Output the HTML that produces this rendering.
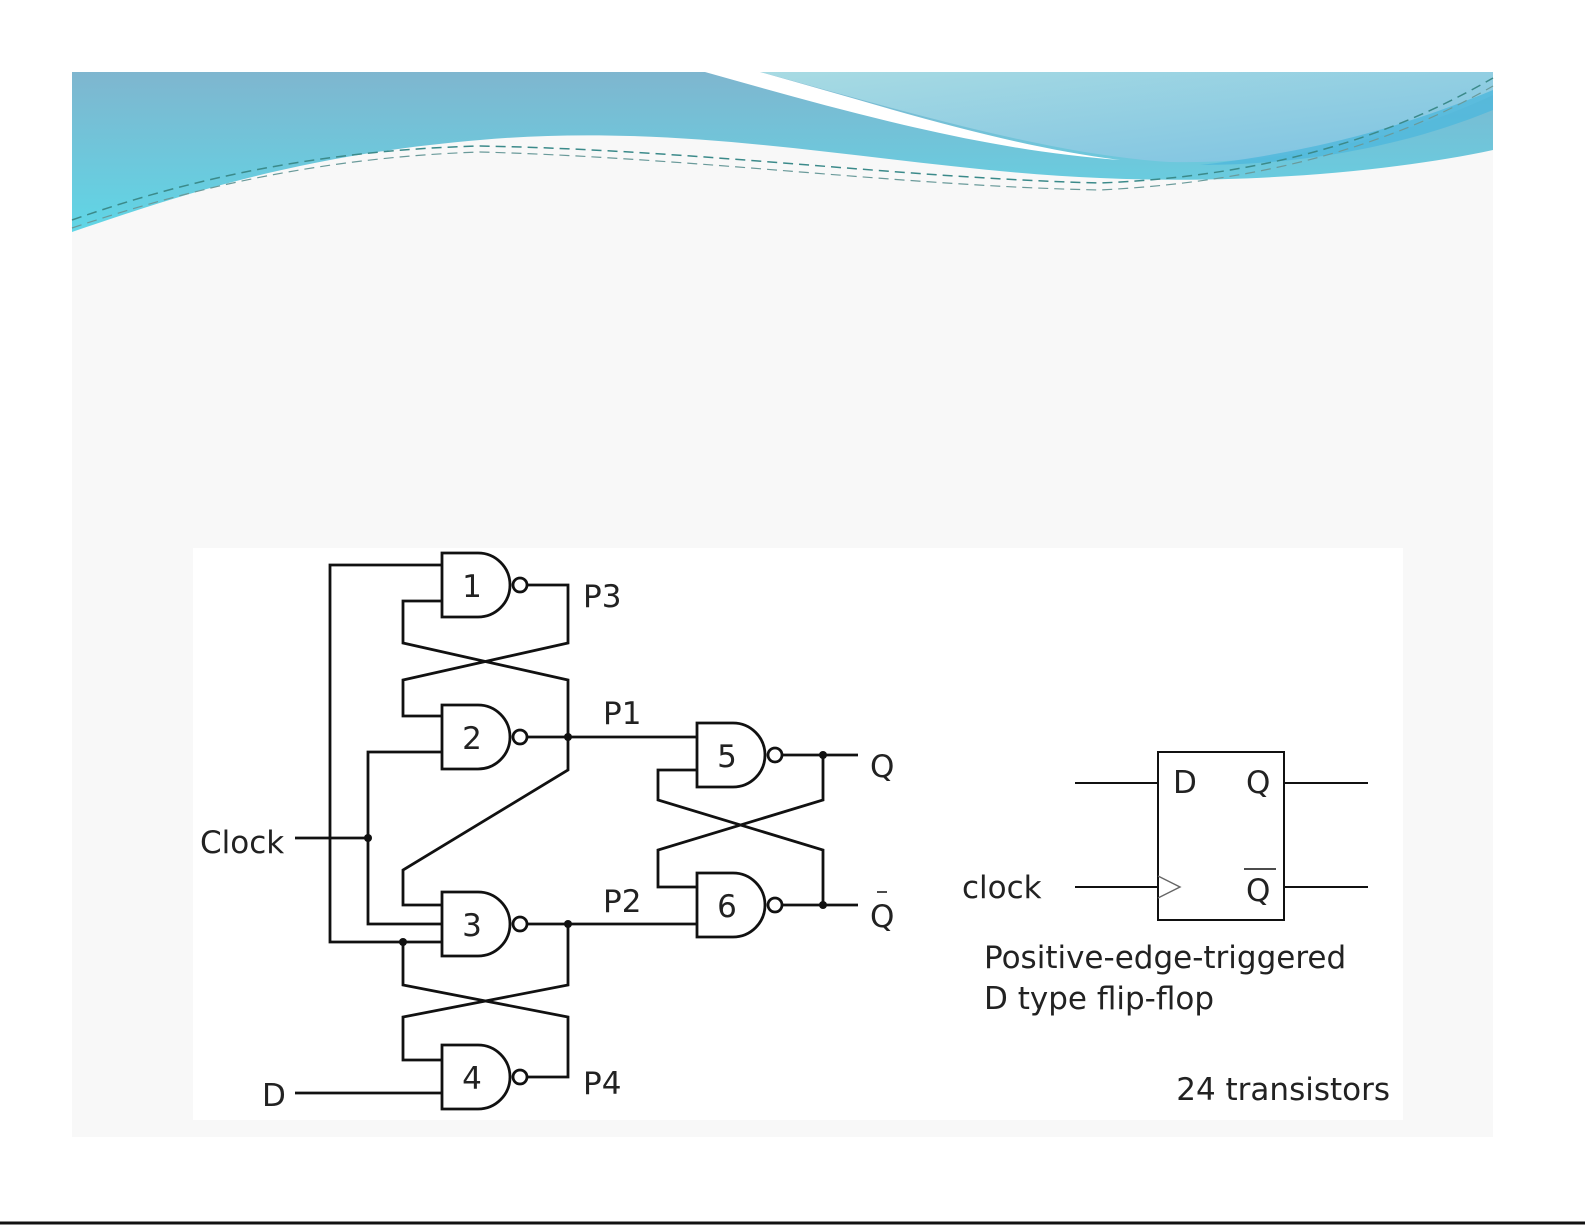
<!DOCTYPE html>
<html><head><meta charset="utf-8"><style>
html,body{margin:0;padding:0;background:#fff;}
svg{display:block;}
text{font-family:"DejaVu Sans","Liberation Sans",sans-serif;fill:#222;}
</style></head><body>
<svg width="1585" height="1225" viewBox="0 0 1585 1225" xmlns="http://www.w3.org/2000/svg">
<defs>
<linearGradient id="g1" x1="0" y1="0" x2="0" y2="1">
<stop offset="0" stop-color="#7fb6cf"/><stop offset="1" stop-color="#5fd6e6"/></linearGradient>
<linearGradient id="g2" x1="0" y1="0" x2="1" y2="1">
<stop offset="0" stop-color="#a8dbe3"/><stop offset="1" stop-color="#7cc2e2"/></linearGradient>
</defs>
<rect x="72" y="72" width="1421" height="1065" fill="#f8f8f8"/>
<path d="M72,72 H1493 V150 C1400,170 1250,185 1100,178 C900,170 700,120 480,140 C300,155 180,195 72,232 Z" fill="url(#g1)"/>
<path d="M760,72 H1493 V95 C1420,130 1300,165 1170,162 C1050,155 900,110 760,72 Z" fill="url(#g2)"/>
<path d="M705,72 H760 C880,105 1000,145 1120,160 C980,150 840,110 705,72 Z" fill="#fff"/>
<path d="M1200,165 C1330,150 1420,120 1493,90 V110 C1420,140 1320,165 1200,165 Z" fill="#4fb8dc" opacity="0.8"/>
<path d="M72,220 C200,175 330,150 480,146 C700,150 900,178 1100,183 C1300,175 1420,120 1493,78" fill="none" stroke="#3b8a8a" stroke-width="1.5" stroke-dasharray="10,6"/>
<path d="M72,228 C200,185 330,157 480,152 C700,158 900,186 1100,190 C1300,180 1420,128 1493,86" fill="none" stroke="#6a9a9a" stroke-width="1.2" stroke-dasharray="10,6"/>
<rect x="193" y="548" width="1210" height="572" fill="#fff"/>
<line x1="0" y1="1223" x2="1585" y2="1223" stroke="#111" stroke-width="3"/>

<g fill="none" stroke="#111" stroke-width="2.8">
<path d="M442,553 H478 A32,32 0 0 1 478,617 H442 Z"/>
<path d="M442,705 H478 A32,32 0 0 1 478,769 H442 Z"/>
<path d="M442,892 H478 A32,32 0 0 1 478,956 H442 Z"/>
<path d="M442,1045 H478 A32,32 0 0 1 478,1109 H442 Z"/>
<path d="M697,723 H733 A32,32 0 0 1 733,787 H697 Z"/>
<path d="M697,873 H733 A32,32 0 0 1 733,937 H697 Z"/>
<circle cx="520" cy="585" r="7"/>
<circle cx="520" cy="737" r="7"/>
<circle cx="520" cy="924" r="7"/>
<circle cx="520" cy="1077" r="7"/>
<circle cx="775" cy="755" r="7"/>
<circle cx="775" cy="905" r="7"/>
<path d="M442,565 H330 V942 H442"/>
<path d="M295,838 H368"/>
<path d="M442,752 H368 V924 H442"/>
<path d="M442,601 H403 V643 L568,680 V737"/>
<path d="M527,585 H568 V643 L403,680 V716 H442"/>
<path d="M527,737 H697"/>
<path d="M568,737 V770 L403,870 V905 H442"/>
<path d="M527,924 H697"/>
<path d="M568,924 V985 L403,1017 V1060 H442"/>
<path d="M403,942 V985 L568,1017 V1077 H527"/>
<path d="M295,1093 H442"/>
<path d="M782,755 H858"/>
<path d="M782,905 H858"/>
<path d="M697,770 H658 V800 L823,850 V905"/>
<path d="M823,755 V800 L658,850 V887 H697"/>
<rect x="1158" y="752" width="126" height="168" stroke-width="2"/>
<path d="M1075,783 H1158 M1075,887 H1158 M1284,783 H1368 M1284,887 H1368" stroke-width="2"/>
<path d="M1158,876 L1180,887 L1158,898" stroke-width="1.4" stroke="#666"/>
<path d="M1244,869 H1276" stroke-width="1.6"/>
</g>
<g fill="#111">
<circle cx="368" cy="838" r="4"/>
<circle cx="403" cy="942" r="4"/>
<circle cx="568" cy="737" r="4"/>
<circle cx="568" cy="924" r="4"/>
<circle cx="823" cy="755" r="4"/>
<circle cx="823" cy="905" r="4"/>
</g>
<g font-size="31" text-anchor="middle">
<text x="472" y="597">1</text>
<text x="472" y="749">2</text>
<text x="472" y="936">3</text>
<text x="472" y="1089">4</text>
<text x="727" y="767">5</text>
<text x="727" y="917">6</text>
</g>
<g font-size="31">
<text x="583" y="607">P3</text>
<text x="603" y="724">P1</text>
<text x="603" y="912">P2</text>
<text x="583" y="1094">P4</text>
<text x="870" y="777">Q</text>
<text x="870" y="927">Q</text>
<text x="200" y="853">Clock</text>
<text x="262" y="1106">D</text>
<text x="1173" y="793">D</text>
<text x="1246" y="793">Q</text>
<text x="1246" y="901">Q</text>
<text x="962" y="898">clock</text>
<text x="984" y="968">Positive-edge-triggered</text>
<text x="984" y="1009">D type flip-flop</text>
<text x="1390" y="1100" text-anchor="end">24 transistors</text>
</g>
<path d="M877,892 H887" stroke="#111" stroke-width="1.5"/>
</svg>
</body></html>
